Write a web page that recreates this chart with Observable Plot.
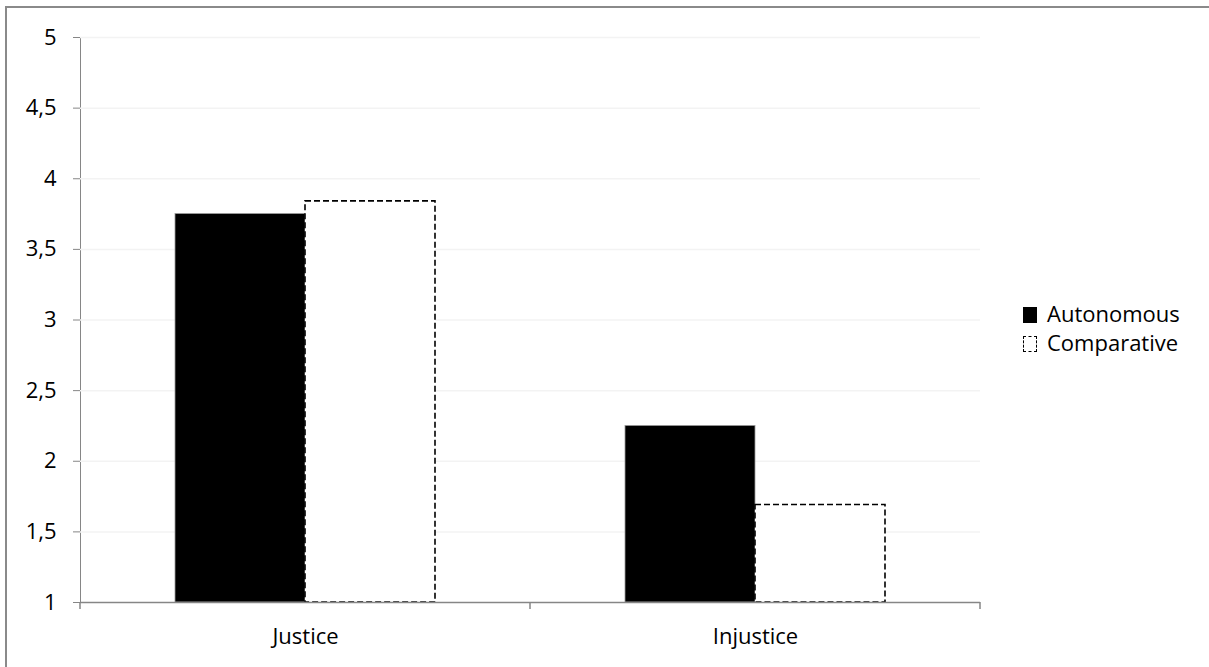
<!DOCTYPE html>
<html>
<head>
<meta charset="utf-8">
<script src="https://cdn.jsdelivr.net/npm/d3@7"></script>
<script src="https://cdn.jsdelivr.net/npm/@observablehq/plot@0.6"></script>
<style>
  html, body { margin: 0; padding: 0; background: #fff; }
  #wrap { position: relative; width: 1209px; height: 667px; overflow: hidden; font-family: "Open Sans", sans-serif; }
  #frame { position: absolute; left: 5px; top: 6px; width: 1300px; height: 800px; border-left: 2px solid #8a8a8a; border-top: 2px solid #8a8a8a; pointer-events: none; }
  #chart svg text { fill: #000; }
  .legend { position: absolute; left: 1023px; font-size: 22px; color: #000; line-height: 1; }
  .legend .item { position: absolute; left: 0; white-space: nowrap; }
  .legend .sw { position: absolute; left: 0; width: 14px; height: 16px; box-sizing: border-box; }
  .legend .lab { position: absolute; left: 24px; }
</style>
</head>
<body>
<div id="wrap">
  <div id="chart"></div>
  <div id="frame"></div>
  <div id="legend"></div>
</div>
<script>
const categories = ["Justice", "Injustice"];
const series = ["Autonomous", "Comparative"];
const autonomous = [3.75, 2.25];
const comparative = [3.84, 1.69];
const yTicks = [1, 1.5, 2, 2.5, 3, 3.5, 4, 4.5, 5];

const data = [];
categories.forEach((c, i) => {
  data.push({category: c, series: series[0], value: autonomous[i]});
  data.push({category: c, series: series[1], value: comparative[i]});
});
const fmt = d => String(d).replace(".", ",");

const plot = Plot.plot({
  width: 1209,
  height: 667,
  marginLeft: 80,
  marginRight: 229,
  marginTop: 37,
  marginBottom: 65,
  style: {fontFamily: "Open Sans, sans-serif", fontSize: "22px", color: "#868686", background: "transparent", overflow: "visible"},
  fx: {domain: categories, padding: 0, tickSize: 0, tickPadding: 26, label: null, axis: "bottom"},
  x: {domain: series, paddingInner: 0, paddingOuter: 0.73, axis: null},
  y: {domain: [1, 5], ticks: yTicks, tickFormat: fmt, tickSize: 7, tickPadding: 17, line: true, label: null},
  marks: [
    Plot.ruleY(yTicks.filter(v => v > 1), {stroke: "#f3f3f3", strokeWidth: 1.5}),
    Plot.barY(data.filter(d => d.series === series[0]), {fx: "category", x: "series", y1: 1, y2: "value", fill: "#000", stroke: "#9a9a9a", strokeWidth: 0.8}),
    Plot.barY(data.filter(d => d.series === series[1]), {fx: "category", x: "series", y1: 1, y2: "value", fill: "#fff", stroke: "#000", strokeWidth: 1.6, strokeDasharray: "6,3"}),
    Plot.ruleY([1], {stroke: "#868686", strokeWidth: 1.5})
  ]
});
document.getElementById("chart").appendChild(plot);

// category boundary ticks on the x axis, from the fx scale
const fxs = plot.scale("fx");
const ys = plot.scale("y");
const svg = d3.select(plot);
const y0 = ys.apply(1);
const edges = categories.map(c => fxs.apply(c));
edges.push(fxs.apply(categories[categories.length - 1]) + fxs.step);
svg.append("g").selectAll("line").data(edges).join("line")
  .attr("x1", d => d).attr("x2", d => d)
  .attr("y1", y0).attr("y2", y0 + 7)
  .attr("stroke", "#868686").attr("stroke-width", 1.5);

// legend
const legend = d3.select("#legend").attr("class", "legend").style("top", "0px");
const items = [
  {label: series[0], top: 305, style: "background:#000;"},
  {label: series[1], top: 334, style: "background:#fff;border:1.5px dashed #000;"}
];
items.forEach(it => {
  const g = legend.append("div").attr("class", "item").style("top", it.top + "px");
  g.append("div").attr("class", "sw").attr("style", it.style + "top:2px;");
  g.append("div").attr("class", "lab").style("top", "-3px").text(it.label);
});
</script>
</body>
</html>
